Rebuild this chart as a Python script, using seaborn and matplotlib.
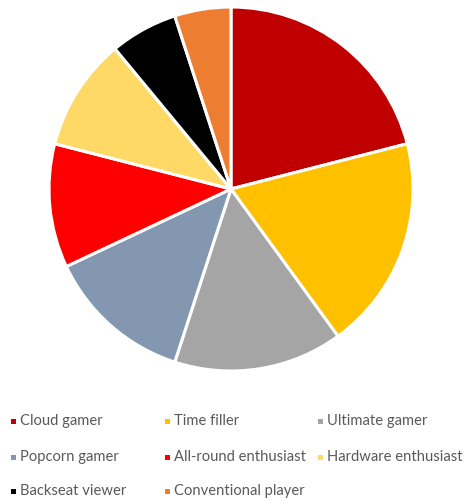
import matplotlib
matplotlib.use("Agg")
import matplotlib.pyplot as plt
import seaborn as sns
from matplotlib.patches import Rectangle

sns.set_theme(style="white")
plt.rcParams['font.family'] = ['Lato', 'DejaVu Sans']

categories = ["Cloud gamer", "Time filler", "Ultimate gamer", "Popcorn gamer",
              "All-round enthusiast", "Hardware enthusiast", "Backseat viewer",
              "Conventional player"]
values = [21, 19, 15, 13, 11, 10, 6, 5]
colors = ["#C00000", "#FFC000", "#A5A5A5", "#8497B0", "#FF0000", "#FFD966",
          "#000000", "#ED7D31"]

W, H = 465, 501
fig = plt.figure(figsize=(W / 100, H / 100), dpi=100)
fig.patch.set_facecolor("white")

ax = fig.add_axes([49 / W, (H - 371) / H, 364 / W, 364 / H])
ax.pie(values, colors=colors, startangle=90, counterclock=False,
       wedgeprops=dict(edgecolor="white", linewidth=2.2))
ax.set_xlim(-1.0, 1.0)
ax.set_ylim(-1.0, 1.0)
ax.set_aspect("equal")
ax.axis("off")

col_x = [11, 165, 318]
row_y = [421, 457, 491]
for i, (lab, col) in enumerate(zip(categories, colors)):
    r, c = divmod(i, 3)
    x = col_x[c]
    y = row_y[r]
    fig.add_artist(Rectangle(((x) / W, (H - y - 2.5) / H), 5 / W, 5 / H,
                             transform=fig.transFigure, facecolor=col,
                             edgecolor="none"))
    fig.text((x + 9) / W, (H - y) / H, lab, color="#595959", fontsize=10.6,
             va="center", ha="left")

fig.savefig("out.png", dpi=100, facecolor="white")
